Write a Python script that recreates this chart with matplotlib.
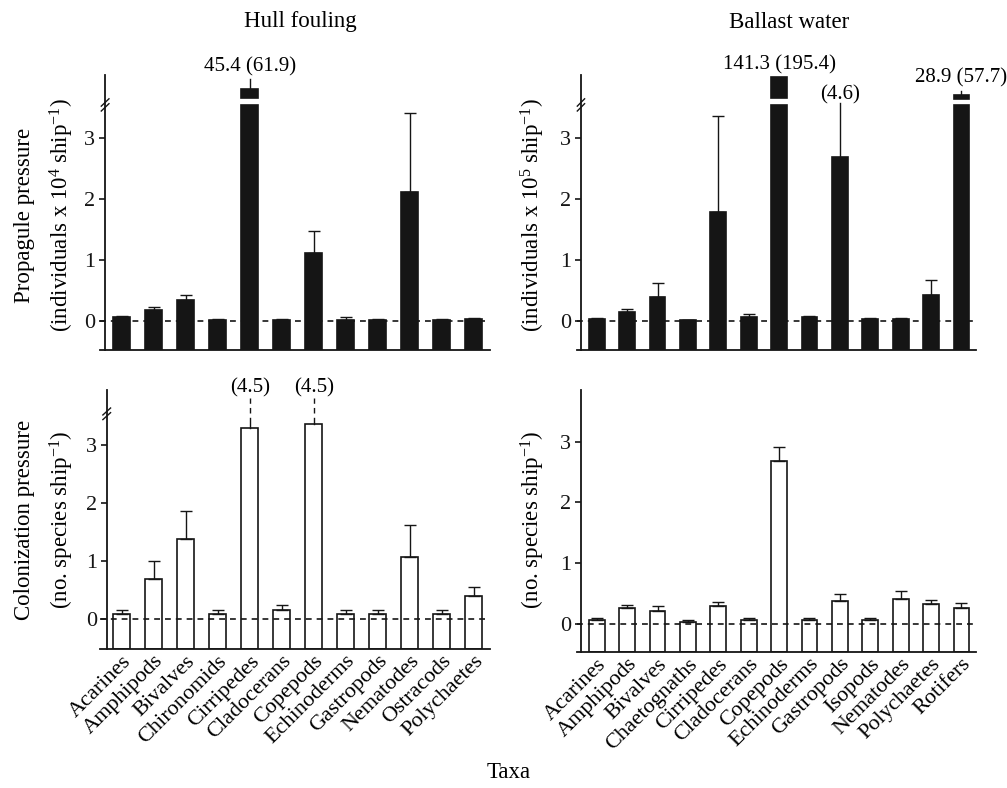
import numpy as np
import matplotlib
matplotlib.use("Agg")
import matplotlib.pyplot as plt

plt.rcParams['font.family'] = ['Liberation Serif', 'DejaVu Serif']
plt.rcParams['mathtext.fontset'] = 'custom'
plt.rcParams['mathtext.rm'] = 'Liberation Serif'
plt.rcParams['mathtext.default'] = 'regular'

# ---- data -------------------------------------------------------------------
hull_taxa = ['Acarines', 'Amphipods', 'Bivalves', 'Chironomids', 'Cirripedes',
             'Cladocerans', 'Copepods', 'Echinoderms', 'Gastropods',
             'Nematodes', 'Ostracods', 'Polychaetes']
ballast_taxa = ['Acarines', 'Amphipods', 'Bivalves', 'Chaetognaths',
                'Cirripedes', 'Cladocerans', 'Copepods', 'Echinoderms',
                'Gastropods', 'Isopods', 'Nematodes', 'Polychaetes', 'Rotifers']

# propagule pressure, mean and SE
hull_pp = [0.07, 0.18, 0.34, 0.02, 45.4, 0.02, 1.12, 0.02, 0.02, 2.12, 0.02, 0.04]
hull_pp_se = [0.01, 0.05, 0.08, 0.01, 61.9, 0.01, 0.35, 0.04, 0.01, 1.28, 0.01, 0.01]
ballast_pp = [0.04, 0.15, 0.40, 0.01, 1.78, 0.07, 141.3, 0.07, 2.68, 0.04, 0.04, 0.43, 28.9]
ballast_pp_se = [0.01, 0.05, 0.22, 0.01, 1.58, 0.04, 195.4, 0.01, 4.6, 0.01, 0.01, 0.24, 57.7]

# colonization pressure, mean and SE
hull_cp = [0.10, 0.70, 1.38, 0.10, 3.30, 0.16, 3.37, 0.10, 0.10, 1.07, 0.10, 0.40]
hull_cp_se = [0.06, 0.31, 0.48, 0.06, 4.5, 0.09, 4.5, 0.06, 0.06, 0.56, 0.06, 0.15]
ballast_cp = [0.07, 0.26, 0.21, 0.04, 0.30, 0.07, 2.68, 0.07, 0.38, 0.07, 0.41, 0.33, 0.26]
ballast_cp_se = [0.03, 0.06, 0.08, 0.02, 0.06, 0.03, 0.24, 0.03, 0.11, 0.03, 0.14, 0.07, 0.08]

BRK = 3.55   # axis break level
W, H = 1007, 788


def add_axes(left, right, top, bottom):
    return fig.add_axes([left / W, (H - bottom) / H, (right - left) / W, (bottom - top) / H])


def panel(ax, mean, se, filled, xlim, ylim, spine_x, broken=True, notes=None):
    notes = notes or {}
    mean = np.asarray(mean, float)
    se = np.asarray(se, float)
    x = np.arange(len(mean))
    y0 = ylim[0]
    top = np.minimum(mean, BRK - 0.01)
    fc = '#151515' if filled else 'white'
    ax.bar(x, top - y0, bottom=y0, width=0.52, color=fc, edgecolor='#151515',
           linewidth=1.2, zorder=2)
    ax.axhline(0, color='#151515', lw=1.2, ls=(0, (3.5, 3)), zorder=3)

    normal = np.array([i not in notes for i in x])
    ax.errorbar(x[normal], mean[normal], yerr=[np.zeros(normal.sum()), se[normal]],
                fmt='none', ecolor='#151515', elinewidth=1, capsize=4, capthick=1,
                zorder=4)

    for i, st in notes.items():
        if mean[i] > BRK:
            # stub of the broken bar above the gap
            ax.bar(i, st['stub'][1] - st['stub'][0], bottom=st['stub'][0], width=0.52,
                   color=fc, edgecolor='#151515', linewidth=1.2, zorder=2, clip_on=False)
            ax.plot([i, i], [st['stub'][1], st['err']], color='#151515', lw=1,
                    clip_on=False, zorder=4)
            label = f"{mean[i]:.1f} ({se[i]:.1f})"
        else:
            ax.plot([i, i], [mean[i], st['err']], color='#151515', lw=1,
                    clip_on=False, zorder=4)
            if 'dash' in st:
                ax.plot([i, i], [st['err'] + 0.08, st['dash']], color='#151515', lw=1,
                        ls=(0, (4, 3)), clip_on=False, zorder=4)
            label = f"({se[i]:.1f})"
        ax.text(i, st['label'], label, ha='center', va='center', fontsize=15,
                clip_on=False)

    ax.set_xlim(*xlim)
    ax.set_ylim(*ylim)
    ax.spines['top'].set_visible(False)
    ax.spines['right'].set_visible(False)
    ax.spines['left'].set_position(('data', spine_x))
    for s in ('left', 'bottom'):
        ax.spines[s].set_linewidth(1.3)
        ax.spines[s].set_color('#151515')
    ax.set_yticks([0, 1, 2, 3])
    ax.tick_params(axis='y', direction='out', length=4, width=1.2, labelsize=16,
                   pad=3, colors='#151515')
    ax.tick_params(axis='x', length=0)
    ax.set_xticks(x)

    if broken:
        trans = ax.transData
        for dy in (-0.05, 0.03):
            ax.plot([spine_x - 0.12, spine_x + 0.12], [BRK + dy - 0.06, BRK + dy + 0.06],
                    color='#151515', lw=1, clip_on=False, transform=trans, zorder=5)


fig = plt.figure(figsize=(W / 100, H / 100), dpi=100)

ax1 = add_axes(100, 490, 75, 350)
panel(ax1, hull_pp, hull_pp_se, True, (-0.68, 11.51), (-0.475, 4.03), -0.52,
      notes={4: {'stub': (3.66, 3.80), 'err': 3.96, 'label': 4.17}})
ax1.set_xticklabels([])

ax2 = add_axes(577, 976, 75, 350)
panel(ax2, ballast_pp, ballast_pp_se, True, (-0.65, 12.48), (-0.475, 4.03), -0.52,
      notes={6: {'stub': (3.66, 3.99), 'err': 3.99, 'label': 4.20},
             8: {'err': 3.57, 'label': 3.70},
             12: {'stub': (3.63, 3.70), 'err': 3.76, 'label': 3.98}})
ax2.set_xticklabels([])

ax3 = add_axes(100, 490, 390, 649)
panel(ax3, hull_cp, hull_cp_se, False, (-0.68, 11.51), (-0.51, 3.95), -0.47,
      notes={4: {'err': 3.47, 'dash': 3.82, 'label': 3.99},
             6: {'err': 3.47, 'dash': 3.82, 'label': 3.99}})

ax4 = add_axes(577, 976, 390, 652)
panel(ax4, ballast_cp, ballast_cp_se, False, (-0.65, 12.48), (-0.46, 3.85), -0.52,
      broken=False)

for ax, taxa in ((ax3, hull_taxa), (ax4, ballast_taxa)):
    ax.set_xticklabels(taxa, rotation=45, ha='right', va='top',
                       rotation_mode='anchor', fontsize=16)
    ax.tick_params(axis='x', pad=2)

# titles and axis labels
fig.text(300 / W, 1 - 22 / H, 'Hull fouling', ha='center', va='center', fontsize=16.5)
fig.text(789 / W, 1 - 22 / H, 'Ballast water', ha='center', va='center', fontsize=16.5)
fig.text(25 / W, 1 - 215 / H, 'Propagule pressure', rotation=90,
         ha='center', va='center', fontsize=16.5)
fig.text(62 / W, 1 - 215 / H, '(individuals x 10$^{4}$ ship$^{-1}$)', rotation=90,
         ha='center', va='center', fontsize=16.5)
fig.text(533 / W, 1 - 215 / H, '(individuals x 10$^{5}$ ship$^{-1}$)', rotation=90,
         ha='center', va='center', fontsize=16.5)
fig.text(25 / W, 1 - 520 / H, 'Colonization pressure', rotation=90,
         ha='center', va='center', fontsize=16.5)
fig.text(62 / W, 1 - 520 / H, '(no. species ship$^{-1}$)', rotation=90,
         ha='center', va='center', fontsize=16.5)
fig.text(533 / W, 1 - 520 / H, '(no. species ship$^{-1}$)', rotation=90,
         ha='center', va='center', fontsize=16.5)
fig.text(509 / W, 1 - 772 / H, 'Taxa', ha='center', va='center', fontsize=16.5)

fig.savefig('out.png', dpi=100)
